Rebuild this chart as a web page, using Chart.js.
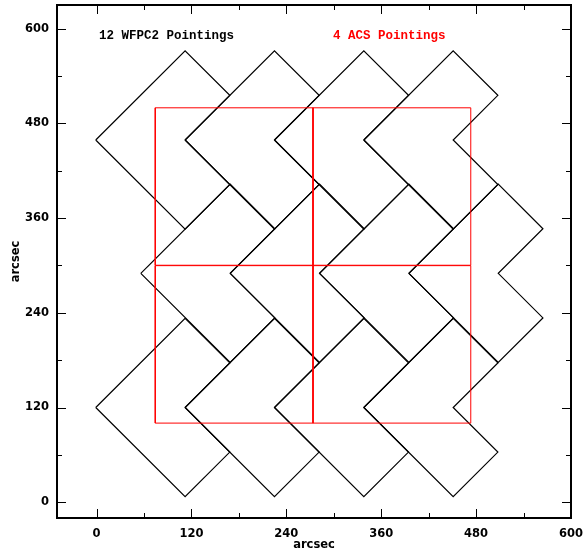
<!DOCTYPE html>
<html>
<head>
<meta charset="utf-8">
<script src="https://cdn.jsdelivr.net/npm/chart.js@4/dist/chart.umd.min.js"></script>
<style>
  html, body { margin: 0; padding: 0; background: #fff; }
  #wrap { width: 584px; height: 551px; position: relative; }
</style>
</head>
<body>
<div id="wrap"><canvas id="c" width="584" height="551"></canvas></div>
<script>
// ---- data (arcsec) ----
const xTicks = [0, 120, 240, 360, 480, 600];
const yTicks = [0, 120, 240, 360, 480, 600];
const xMinorTicks = [60, 180, 300, 420, 540];
const yMinorTicks = [60, 180, 300, 420, 540];

// WFPC2 pointing centres (3 rows of 4)
const wfpcX = [112, 225, 338, 451, 169, 282, 395, 508, 112, 225, 338, 451];
const wfpcY = [120, 120, 120, 120, 290, 290, 290, 290, 459, 459, 459, 459];
// WFPC2 footprint outline relative to centre (three 80" WF chips, rotated 45 deg)
const wfpcShapeX = [-113, 0, 56.5, 0, 56.5, 0, -113];
const wfpcShapeY = [0, 113, 56.5, 0, -56.5, -113, 0];

// ACS pointing centres and field size
const acsX = [174, 373.5, 174, 373.5];
const acsY = [200, 200, 400, 400];
const acsSide = 199.5;

const noteTexts = ['12 WFPC2 Pointings', '4 ACS Pointings'];
const noteX = [3, 299];
const noteY = [587, 587];

// ---- build datasets ----
const datasets = [];
for (let i = 0; i < acsX.length; i++) {
  const h = acsSide / 2;
  const pts = [[-h, -h], [h, -h], [h, h], [-h, h], [-h, -h]].map(p => ({ x: acsX[i] + p[0], y: acsY[i] + p[1] }));
  datasets.push({ label: 'ACS ' + (i + 1), data: pts, borderColor: '#ff0000', borderWidth: 1, order: 0 });
}
for (let i = 0; i < wfpcX.length; i++) {
  const pts = wfpcShapeX.map((dx, k) => ({ x: wfpcX[i] + dx, y: wfpcY[i] + wfpcShapeY[k] }));
  datasets.push({ label: 'WFPC2 ' + (i + 1), data: pts, borderColor: '#000000', borderWidth: 1.2, order: 1 });
}

const framePlugin = {
  id: 'frame',
  afterDatasetsDraw(chart) {
    const ctx = chart.ctx;
    const a = chart.chartArea;
    const xs = chart.scales.x, ys = chart.scales.y;
    ctx.save();
    ctx.strokeStyle = '#000';
    ctx.lineWidth = 1;
    const major = 9, minor = 5;
    ctx.beginPath();
    xTicks.forEach(v => {
      const p = Math.round(xs.getPixelForValue(v)) + 0.5;
      ctx.moveTo(p, a.bottom); ctx.lineTo(p, a.bottom - major);
      ctx.moveTo(p, a.top); ctx.lineTo(p, a.top + major);
    });
    xMinorTicks.forEach(v => {
      const p = Math.round(xs.getPixelForValue(v)) + 0.5;
      ctx.moveTo(p, a.bottom); ctx.lineTo(p, a.bottom - minor);
      ctx.moveTo(p, a.top); ctx.lineTo(p, a.top + minor);
    });
    yTicks.forEach(v => {
      const p = Math.round(ys.getPixelForValue(v)) + 0.5;
      ctx.moveTo(a.left, p); ctx.lineTo(a.left + major, p);
      ctx.moveTo(a.right, p); ctx.lineTo(a.right - major, p);
    });
    yMinorTicks.forEach(v => {
      const p = Math.round(ys.getPixelForValue(v)) + 0.5;
      ctx.moveTo(a.left, p); ctx.lineTo(a.left + minor, p);
      ctx.moveTo(a.right, p); ctx.lineTo(a.right - minor, p);
    });
    ctx.stroke();
    ctx.lineWidth = 2;
    ctx.strokeRect(a.left, a.top, a.right - a.left, a.bottom - a.top);
    // annotations
    ctx.font = 'bold 12.5px "Liberation Mono", "DejaVu Sans Mono", monospace';
    ctx.textAlign = 'left';
    ctx.textBaseline = 'alphabetic';
    const colors = ['#000000', '#ff0000'];
    noteTexts.forEach((t, i) => {
      ctx.fillStyle = colors[i];
      ctx.fillText(t, xs.getPixelForValue(noteX[i]), ys.getPixelForValue(noteY[i]));
    });
    ctx.restore();
  }
};

const tickFont = { family: '"DejaVu Sans", sans-serif', size: 11.5, weight: 'bold' };
const titleFont = { family: '"DejaVu Sans", sans-serif', size: 11.5, weight: 'bold' };

function zeroPad(s) { s.paddingLeft = 0; s.paddingRight = 0; s.paddingTop = 0; s.paddingBottom = 0; }

new Chart(document.getElementById('c'), {
  type: 'scatter',
  data: { datasets },
  options: {
    responsive: false,
    animation: false,
    events: [],
    layout: { padding: { left: 0, top: 5, right: 13, bottom: 0 } },
    elements: { point: { radius: 0 }, line: { tension: 0 } },
    datasets: { scatter: { showLine: true, pointRadius: 0, fill: false } },
    plugins: { legend: { display: false }, tooltip: { enabled: false } },
    scales: {
      x: {
        type: 'linear', min: -50, max: 600,
        afterBuildTicks: s => { s.ticks = xTicks.map(v => ({ value: v })); },
        afterFit: s => { s.height = 33; zeroPad(s); },
        grid: { display: false, drawTicks: false },
        border: { display: false },
        ticks: { color: '#000', font: tickFont, padding: 9, maxRotation: 0, autoSkip: false },
        title: { display: true, text: 'arcsec', color: '#000', font: titleFont, padding: { top: 0, bottom: -1 } }
      },
      y: {
        type: 'linear', min: -20, max: 630,
        afterBuildTicks: s => { s.ticks = yTicks.map(v => ({ value: v })); },
        afterFit: s => { s.width = 57; zeroPad(s); },
        grid: { display: false, drawTicks: false },
        border: { display: false },
        ticks: { color: '#000', font: tickFont, padding: 8, autoSkip: false },
        title: { display: true, text: 'arcsec', color: '#000', font: titleFont, padding: { top: 9, bottom: 0 } }
      }
    }
  },
  plugins: [framePlugin]
});
</script>
</body>
</html>
